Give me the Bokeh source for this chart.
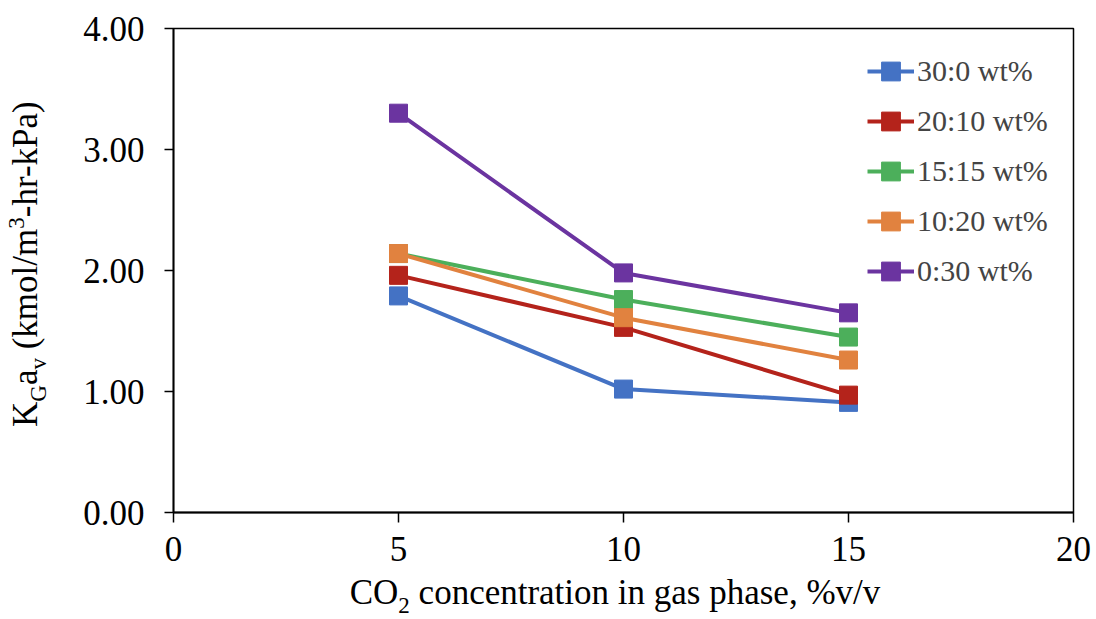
from bokeh.plotting import figure
from bokeh.models import FixedTicker, NumeralTickFormatter, Range1d, Legend, Div
from bokeh.layouts import row, column
from bokeh.embed import file_html
from bokeh.resources import INLINE

# ---- data ----
x_values = [5, 10, 15]
series_names = ["30:0 wt%", "20:10 wt%", "15:15 wt%", "10:20 wt%", "0:30 wt%"]
s_30_0 = [1.79, 1.02, 0.91]
s_20_10 = [1.96, 1.53, 0.97]
s_15_15 = [2.14, 1.76, 1.45]
s_10_20 = [2.14, 1.61, 1.26]
s_0_30 = [3.30, 1.98, 1.65]
series_values = [s_30_0, s_20_10, s_15_15, s_10_20, s_0_30]
series_colors = ["#4472C4", "#B4231B", "#4CAF5B", "#E1823F", "#6B34A0"]
x_ticks = [0, 5, 10, 15, 20]
y_ticks = [0, 1, 2, 3, 4]

FONT = "Liberation Serif"

p = figure(width=1036, height=575, output_backend="svg", toolbar_location=None,
           x_range=Range1d(0, 20), y_range=Range1d(0, 4),
           min_border_left=113, min_border_right=23, min_border_top=28, min_border_bottom=63,
           margin=0)
p.grid.visible = False
p.background_fill_color = "white"
p.border_fill_color = "white"
p.outline_line_color = "black"
p.outline_line_width = 1.5

for ax in (p.xaxis[0], p.yaxis[0]):
    ax.axis_line_color = "black"
    ax.axis_line_width = 1.8
    ax.major_tick_line_color = "black"
    ax.major_tick_line_width = 1.5
    ax.major_tick_in = 0
    ax.minor_tick_line_color = None
    ax.major_label_text_font = FONT
    ax.major_label_text_font_size = "35px"
    ax.major_label_text_color = "black"

p.xaxis.ticker = FixedTicker(ticks=x_ticks)
p.yaxis.ticker = FixedTicker(ticks=y_ticks)
p.yaxis.formatter = NumeralTickFormatter(format="0.00")
p.xaxis.major_tick_out = 10
p.yaxis.major_tick_out = 9
p.xaxis.major_label_standoff = 14
p.yaxis.major_label_standoff = 20

items = []
for name, vals, col in zip(series_names, series_values, series_colors):
    r1 = p.line(x_values, vals, line_color=col, line_width=4)
    r2 = p.scatter(x_values, vals, marker="square", size=18, fill_color=col, line_color=col)
    items.append((name, [r1, r2]))

legend = Legend(items=items, location=(694, 216), orientation="vertical",
                glyph_width=47, glyph_height=50, spacing=0, padding=0, margin=0,
                label_standoff=3, label_text_font=FONT, label_text_font_size="30px",
                border_line_color=None, background_fill_alpha=0)
p.add_layout(legend, "center")

# ---- axis titles as HTML text (with sub/superscripts) ----
base = f"font-family:'{FONT}'; font-size:35px; line-height:35px; color:black; white-space:nowrap;"
sub = "font-size:23px; line-height:0; vertical-align:-9px;"
sup = "font-size:23px; line-height:0; vertical-align:13px;"

ylabel_html = (f'<div style="position:absolute; left:8px; top:427px; transform:rotate(-90deg); '
               f'transform-origin:0 0; {base}">K<span style="{sub}">G</span>a<span style="{sub}">v</span>'
               f' (kmol/m<span style="{sup}">3</span>-hr-kPa)</div>')
xlabel_html = (f'<div style="position:absolute; left:555px; top:0px; transform:translateX(-50%); {base}">'
               f'CO<span style="{sub}">2</span> concentration in gas phase, %v/v</div>')

ydiv = Div(text=ylabel_html, width=60, height=619, margin=0, styles={"overflow": "visible"})
xdiv = Div(text=xlabel_html, width=1036, height=44, margin=0, styles={"overflow": "visible"})

layout = row(ydiv, column(p, xdiv, spacing=0), spacing=0)

open("out.html", "w").write(file_html(layout, INLINE))
